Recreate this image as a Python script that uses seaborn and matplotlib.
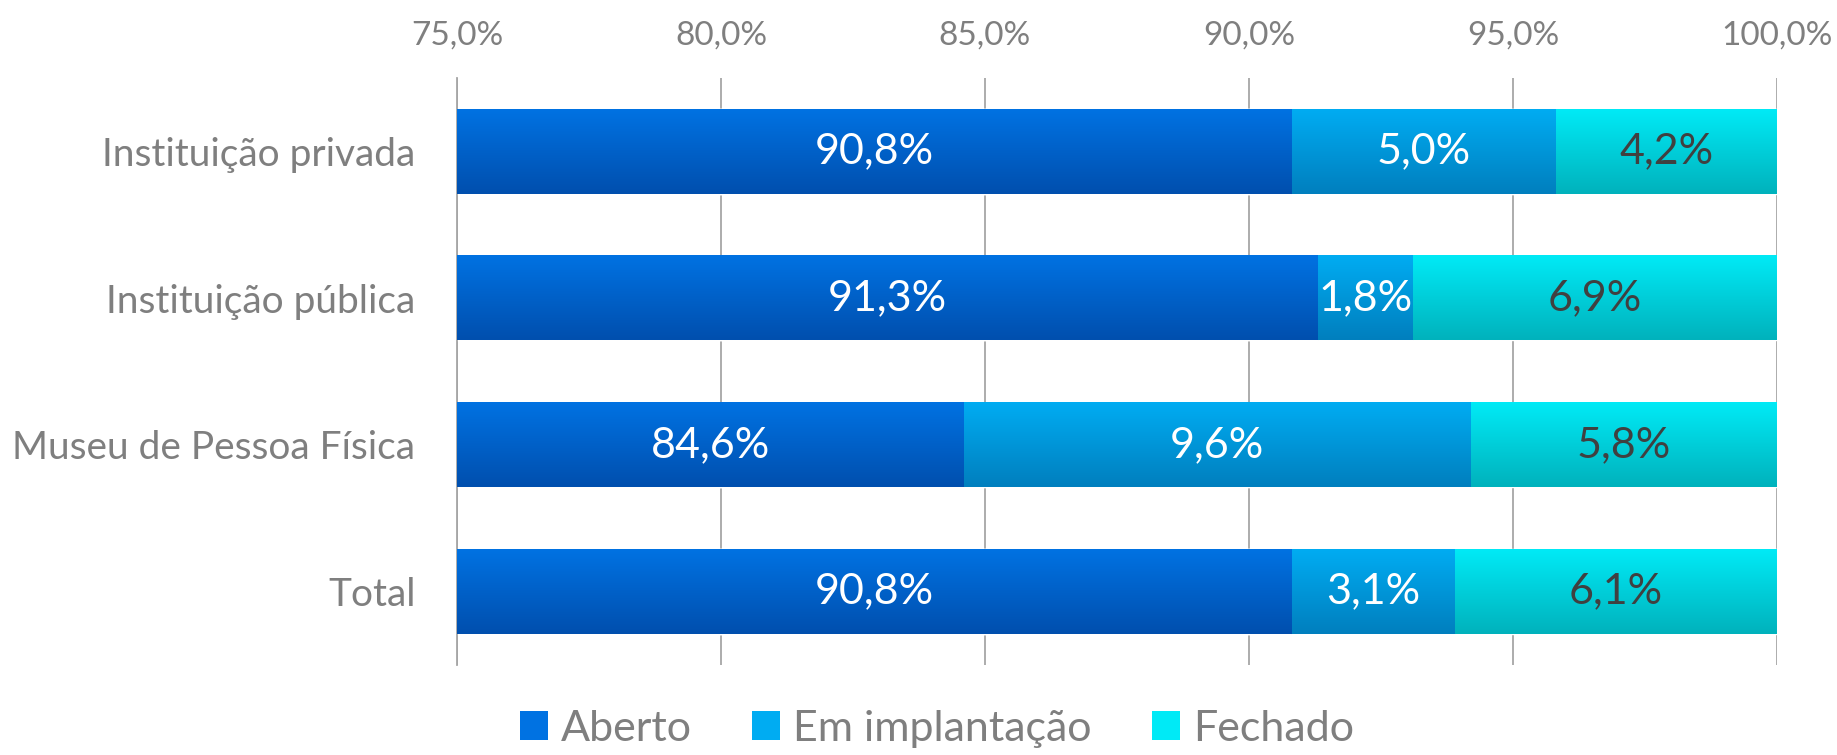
import numpy as np
import pandas as pd
import seaborn as sns
import matplotlib.pyplot as plt
from matplotlib.patches import Patch
from matplotlib.ticker import FuncFormatter

categories = ['Instituição privada', 'Instituição pública', 'Museu de Pessoa Física', 'Total']
aberto = [90.8, 91.3, 84.6, 90.8]
em_implantacao = [5.0, 1.8, 9.6, 3.1]
fechado = [4.2, 6.9, 5.8, 6.1]
series = ['Aberto', 'Em implantação', 'Fechado']

top_cols = {'Aberto': '#0072E2', 'Em implantação': '#00ACF2', 'Fechado': '#00EAF6'}
bot_cols = {'Aberto': '#004FAE', 'Em implantação': '#007FBE', 'Fechado': '#00B2BC'}
txt_cols = {'Aberto': 'white', 'Em implantação': 'white', 'Fechado': '#404040'}

df = pd.DataFrame({'cat': categories, 'Aberto': aberto,
                   'Em implantação': em_implantacao, 'Fechado': fechado})
df['c1'] = df['Aberto']
df['c2'] = df['Aberto'] + df['Em implantação']
df['c3'] = df['c2'] + df['Fechado']

sns.set_style('white')
plt.rcParams['font.family'] = ['Lato', 'DejaVu Sans']

fig = plt.figure(figsize=(18.37, 7.55), dpi=100)
ax = fig.add_axes([0.2488, 0.1192, 0.7185, 0.7775])
xmin, xmax = 75, 100
ax.set_xlim(xmin, xmax)

# draw cumulative bars from largest to smallest
layers = [('c3', 'Fechado'), ('c2', 'Em implantação'), ('c1', 'Aberto')]
for col, name in layers:
    n0 = len(ax.patches)
    sns.barplot(data=df, y='cat', x=col, color=top_cols[name], orient='h',
                width=0.575, ax=ax, zorder=2, saturation=1)
    cmap = sns.blend_palette([top_cols[name], bot_cols[name]], as_cmap=True)
    for p in ax.patches[n0:]:
        x0, y0 = p.get_x(), p.get_y()
        w, h = p.get_width(), p.get_height()
        a, b = max(x0, xmin), min(x0 + w, xmax)
        grad = np.linspace(0, 1, 100).reshape(-1, 1)
        ax.imshow(grad, extent=[a, b, y0 + h, y0], aspect='auto',
                  cmap=cmap, zorder=2.5 + len(ax.images) * 0.001,
                  interpolation='bicubic')

ax.set_xlim(xmin, xmax)
ax.set_ylim(3.5, -0.5)
ax.set_xticks(np.arange(75, 100.1, 5))
ax.xaxis.set_major_formatter(FuncFormatter(lambda v, _: f'{v:.1f}%'.replace('.', ',')))
ax.xaxis.tick_top()
ax.tick_params(axis='x', length=0, pad=20, labelsize=24, labelcolor='#7F7F7F')
ax.tick_params(axis='y', length=0, pad=30, labelsize=28, labelcolor='#7F7F7F')
ax.set_xlabel('')
ax.set_ylabel('')
ax.grid(axis='x', color='#A6A6A6', linewidth=1.3, zorder=0)
ax.set_axisbelow(True)
for s in ['top', 'right', 'bottom']:
    ax.spines[s].set_visible(False)
ax.spines['left'].set_color('#A6A6A6')
ax.spines['left'].set_linewidth(1.3)

# value labels centred on the visible part of each segment
for i in range(len(categories)):
    start = 0.0
    for name in series:
        v = df.loc[i, name]
        a, b = max(start, xmin), min(start + v, xmax)
        ax.text((a + b) / 2, i, f'{v:.1f}%'.replace('.', ','), ha='center', va='center',
                fontsize=31, color=txt_cols[name], zorder=5)
        start += v

handles = [Patch(facecolor=top_cols[n], edgecolor='none') for n in series]
fig.legend(handles, series, loc='center', bbox_to_anchor=(0.51, 0.035), ncol=3,
           frameon=False, fontsize=31, labelcolor='#7F7F7F', handlelength=0.65,
           handleheight=0.65, handletextpad=0.3, columnspacing=1.4)

fig.savefig('out.png', dpi=100)
